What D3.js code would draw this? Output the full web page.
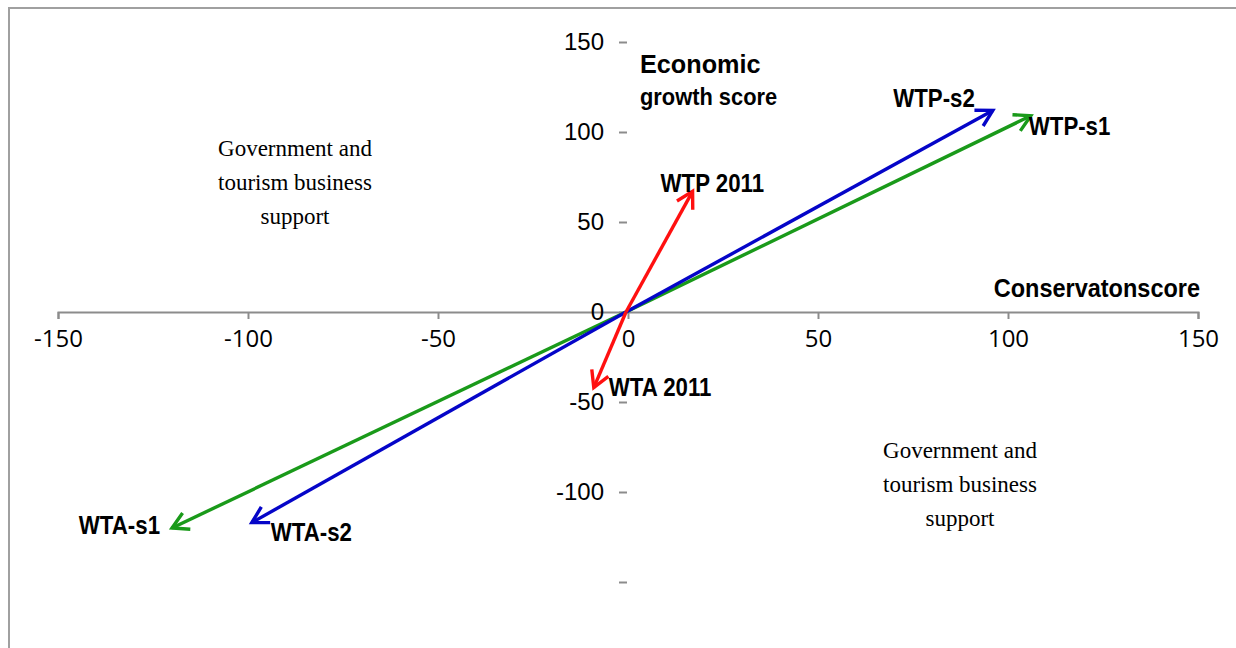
<!DOCTYPE html>
<html><head><meta charset="utf-8">
<script src="https://cdn.jsdelivr.net/npm/d3@7"></script>
<style>
html,body{margin:0;padding:0;background:#fff;}
svg{display:block;}
.lbl{font-family:"Liberation Sans",Arial,sans-serif;font-weight:bold;fill:#000;}
.quad{font-family:"Liberation Serif","Times New Roman",serif;font-size:23px;fill:#000;}
</style></head>
<body>
<svg id="c" width="1236" height="648"></svg>
<script>
// ---- data ----
const series = ["s1", "s2", "2011"];
const wtpX = [106, 96, 17];
const wtpY = [109, 112, 67];
const wtaX = [-120, -99, -9];
const wtaY = [-120, -117, -42];
const wtpLabels = ["WTP-s1", "WTP-s2", "WTP 2011"];
const wtaLabels = ["WTA-s1", "WTA-s2", "WTA 2011"];
const xTicks = [-150, -100, -50, 0, 50, 100, 150];
const yTicks = [150, 100, 50, 0, -50, -100, -150];
const yTickLabels = ["150", "100", "50", "0", "-50", "-100", ""];
const quadrantText = ["Government and", "tourism business", "support"];

// ---- layout ----
const colors = ["#1a9a1a", "#0505c8", "#ff1010"];
const wtpOff = [[-2, 19, "start"], [-18, -3, "end"], [-32, 1, "start"]];
const wtaOff = [[-12, 6, "end"], [19, 18, "start"], [15, 8, "start"]];

const svg = d3.select("#c");
const x = d3.scaleLinear().domain([-150, 150]).range([58, 1198]);
const y = d3.scaleLinear().domain([-150, 150]).range([582, 42]);

// border
svg.append("path").attr("d", "M9,648V8H1236").attr("fill", "none")
  .attr("stroke", "#a0a0a0").attr("stroke-width", 2);

// x axis
const xa = svg.append("g").attr("transform", `translate(0,${y(0)})`)
  .call(d3.axisBottom(x).tickValues(xTicks).tickSize(7).tickSizeOuter(7).tickPadding(11).tickFormat(d3.format("d")));
xa.select(".domain").attr("stroke", "#8c8c8c").attr("stroke-width", 2);
xa.selectAll(".tick line").attr("stroke", "#8c8c8c").attr("stroke-width", 2);
xa.selectAll(".tick text").attr("font-family", "'Open Sans',sans-serif").attr("font-size", 24).attr("fill", "#000")
  .text(d => d < 0 ? "-" + Math.abs(d) : d);

// y axis (ticks only)
const ya = svg.append("g").attr("transform", `translate(${x(0) - 1},0)`)
  .call(d3.axisLeft(y).tickValues(yTicks).tickSize(8).tickPadding(15).tickFormat((d, i) => yTickLabels[i]));
ya.select(".domain").remove();
ya.selectAll(".tick line").attr("stroke", "#8c8c8c").attr("stroke-width", 2);
ya.selectAll(".tick text").attr("font-family", "'Liberation Sans',Arial,sans-serif").attr("font-size", 24).attr("fill", "#000");

// markers
const defs = svg.append("defs");
colors.forEach((c, i) => {
  defs.append("marker").attr("id", "m" + i).attr("viewBox", "-20 -12 24 24")
    .attr("refX", 0).attr("refY", 0).attr("markerUnits", "userSpaceOnUse")
    .attr("markerWidth", 24).attr("markerHeight", 24).attr("orient", "auto")
    .append("path").attr("d", "M-16,-9L0,0L-16,9").attr("fill", "none")
    .attr("stroke", c).attr("stroke-width", 3.4);
});

// vectors: two segments from the origin, each ending in an open arrowhead
series.forEach((s, i) => {
  [[wtpX[i], wtpY[i]], [wtaX[i], wtaY[i]]].forEach(([vx, vy]) => {
    svg.append("line")
      .attr("x1", x(0) - 2).attr("y1", y(0))
      .attr("x2", x(vx)).attr("y2", y(vy))
      .attr("stroke", colors[i]).attr("stroke-width", 3.4)
      .attr("marker-end", `url(#m${i})`);
  });
});

// text helper with horizontal compression
function label(tx, ty, txt, size, anchor, sx) {
  svg.append("text").attr("class", "lbl").attr("font-size", size)
    .attr("text-anchor", anchor)
    .attr("transform", `translate(${tx},${ty}) scale(${sx},1)`)
    .text(txt);
}

// vector labels
series.forEach((s, i) => {
  label(x(wtpX[i]) + wtpOff[i][0], y(wtpY[i]) + wtpOff[i][1], wtpLabels[i], 25, wtpOff[i][2], 0.89);
  label(x(wtaX[i]) + wtaOff[i][0], y(wtaY[i]) + wtaOff[i][1], wtaLabels[i], 25, wtaOff[i][2], 0.89);
});

// axis titles
label(640, 73, "Economic", 26, "start", 0.97);
label(640, 105, "growth score", 23, "start", 0.95);
label(1200, 297, "Conservatonscore", 25, "end", 0.94);

// quadrant notes
[[295, 148], [960, 450]].forEach(([cx, cy]) => {
  quadrantText.forEach((t, j) => {
    svg.append("text").attr("class", "quad").attr("x", cx).attr("y", cy + j * 34 + 8)
      .attr("text-anchor", "middle").text(t);
  });
});
</script>
</body></html>
